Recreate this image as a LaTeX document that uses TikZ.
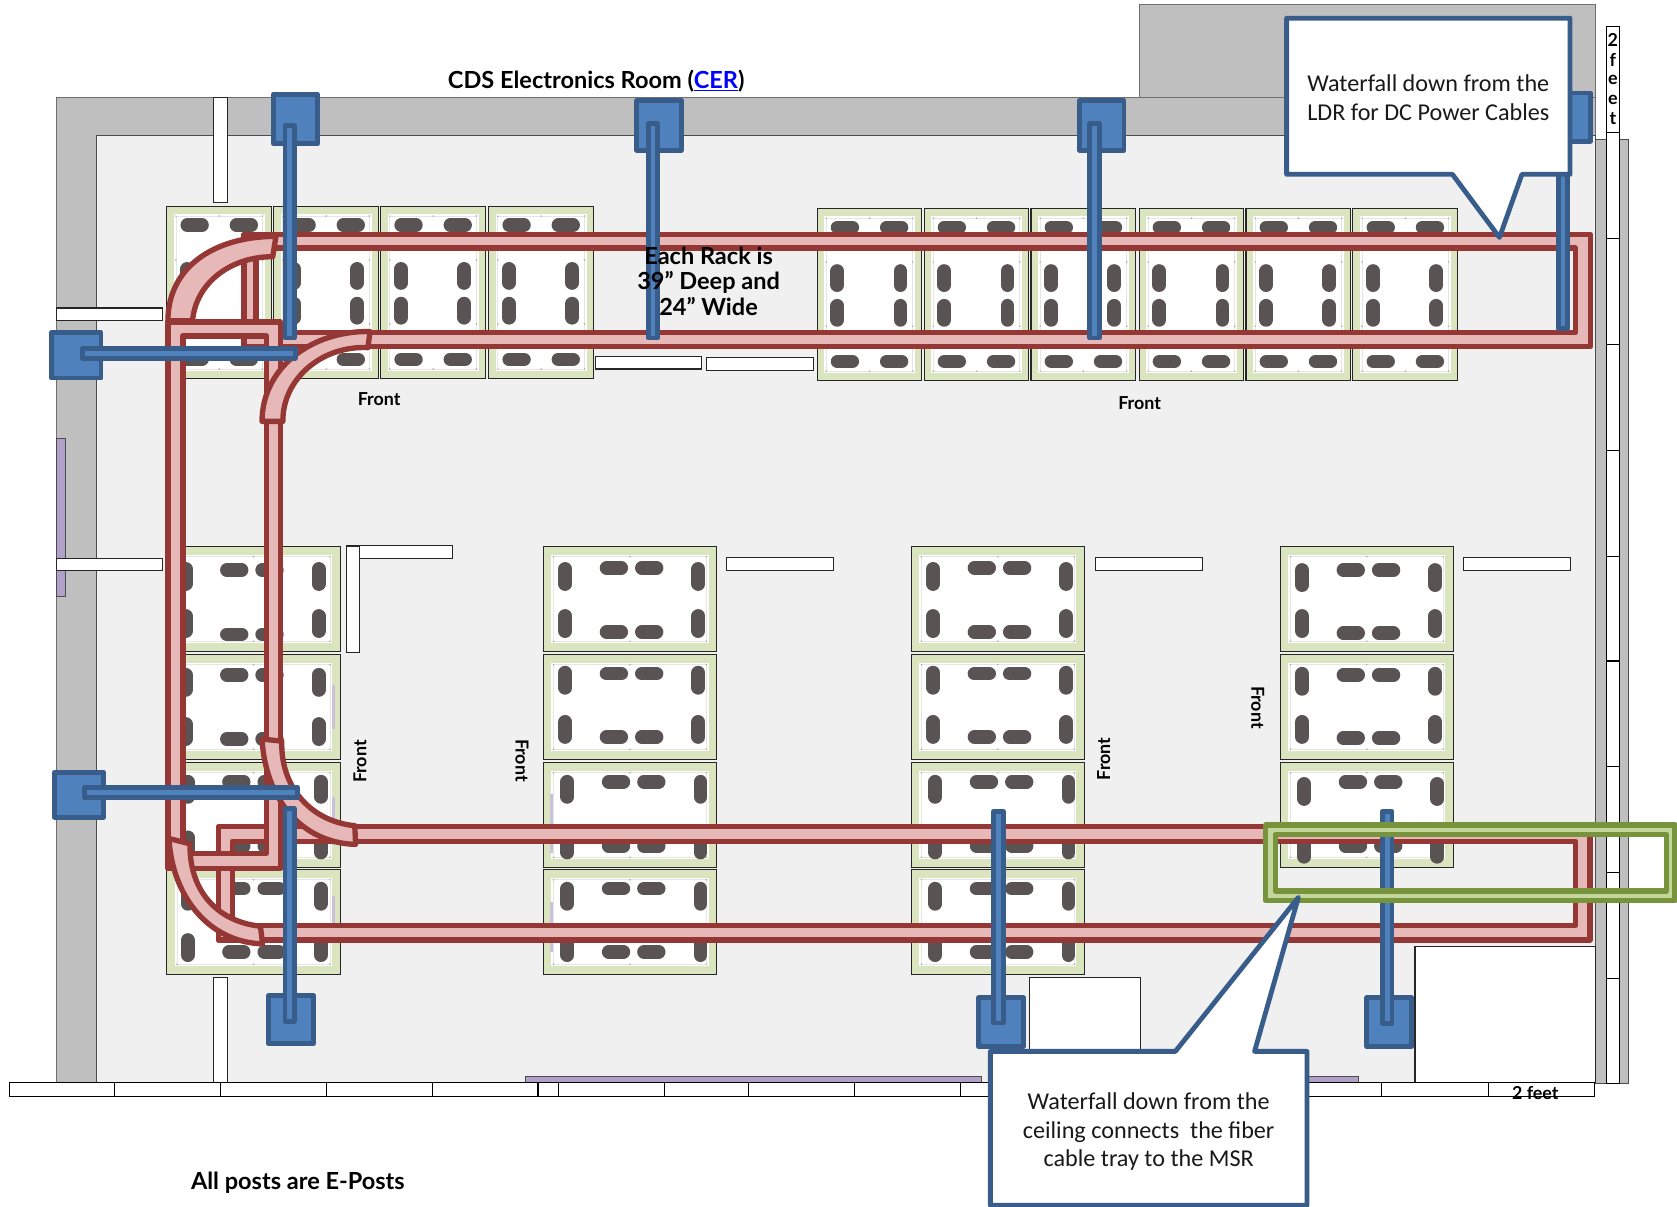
\documentclass[tikz,border=0pt]{standalone}
\usepackage{fontspec}
\setmainfont{Carlito}
\newfontfamily\comic{Lato}
\definecolor{wallgrey}{HTML}{BFBFBF}
\definecolor{wallline}{HTML}{6E6E6E}
\definecolor{floorgrey}{HTML}{F0F0F0}
\definecolor{rackgreen}{HTML}{DAE5BF}
\definecolor{pilldark}{HTML}{595354}
\definecolor{purpleband}{HTML}{B1A0C7}
\definecolor{purplelight}{HTML}{CCC1DA}
\definecolor{traypink}{HTML}{E6B9B8}
\definecolor{trayred}{HTML}{953735}
\definecolor{postblue}{HTML}{4F81BD}
\definecolor{postline}{HTML}{385D8A}
\definecolor{zonegreen}{HTML}{C3D69B}
\definecolor{zoneline}{HTML}{77933C}
\definecolor{linkblue}{HTML}{0000FF}
\tikzset{
  wallbox/.style={fill=wallgrey,draw=wallline,line width=1pt},
  whitebox/.style={fill=white,draw=black!85,line width=1pt},
  rulecell/.style={fill=white,draw=black,line width=1pt},
  band/.style={fill=purpleband,draw=black!70,line width=.7pt},
  rackbox/.style={fill=rackgreen,draw=black!85,line width=1pt},
  rackin/.style={fill=white,draw=none},
  racktrim/.style={draw=black!10,line width=.8pt},
  rackdot/.style={fill=black!35,draw=none},
  pillh/.style={draw=pilldark,line width=12.5pt,line cap=round},
  pillv/.style={draw=pilldark,line width=13pt,line cap=round},
  tray/.style={fill=traypink,draw=trayred,line width=5pt,line join=round},
  post/.style={fill=postblue,draw=postline,line width=4.5pt,line join=round},
  zone/.style={fill=zonegreen,draw=zoneline,line width=5pt,line join=round,even odd rule},
  callout/.style={fill=white,draw=postline,line width=4.5pt,line join=round},
  ctext/.style={align=center,font=\fontsize{22.6}{26.8}\selectfont,text=black!90,inner sep=0pt},
  ftext/.style={font=\comic\bfseries\fontsize{16.7}{20}\selectfont,inner sep=0pt},
  mtext/.style={align=center,font=\comic\bfseries\fontsize{22}{23.5}\selectfont,inner sep=0pt}
}
\newcommand\toprack[2]{\begin{scope}[shift={(#1,#2)}]
  \draw[rackbox] (0,0) rectangle (98,161);
  \fill[rackin] (6.5,7) rectangle (91.5,154);
  \draw[racktrim] (8.5,9) rectangle (89.5,152);
  \foreach \dx/\dy in {8.5/9,49/9,89.5/9,8.5/152,49/152,89.5/152,8.5/50,89.5/50,8.5/110,89.5/110}{\fill[rackdot] (\dx,\dy) circle (.8);}
  \foreach \px in {26,72}{\draw[pillh] (\px-7,17.5)--(\px+7,17.5);\draw[pillh] (\px-7,143)--(\px+7,143);}
  \foreach \px in {19,78}{\draw[pillv] (\px,58.5)--(\px,71.5);\draw[pillv] (\px,91)--(\px,104);}
\end{scope}}
\newcommand\lowrack[7]{\begin{scope}[shift={(#1,#2)}]
  \draw[rackbox] (0,0) rectangle (162,98);
  \fill[rackin] (7.5,7.5) rectangle (154.5,90.5);
  \draw[racktrim] (9.5,9.5) rectangle (152.5,88.5);
  \foreach \dx/\dy in {9.5/9.5,81/9.5,152.5/9.5,9.5/88.5,81/88.5,152.5/88.5}{\fill[rackdot] (\dx,\dy) circle (.8);}
  \foreach \px in {66,99}{\draw[pillh] (#3+\px-7,#4)--(#3+\px+7,#4);\draw[pillh] (#3+\px-7,#5)--(#3+\px+7,#5);}
  \foreach \px in {20.5,145}{\draw[pillv] (#3+\px,#6-7)--(#3+\px,#6+7);\draw[pillv] (#3+\px,#7-7)--(#3+\px,#7+7);}
\end{scope}}
\begin{document}
\begin{tikzpicture}[x=1pt,y=-1pt]
\useasboundingbox (0,0) rectangle (1568,1128);
\fill[white] (0,0) rectangle (1568,1128);
% building
\draw[wallbox] (1065,4) rectangle (1492,91);
\draw[wallbox] (53,91) rectangle (1492,1012);
\draw[fill=floorgrey,draw=black!70,line width=1pt] (90,127) rectangle (1492,1012);
\foreach \wx/\wr in {1492/1502,1514/1523}{
  \shade[top color=wallgrey,middle color=black!50,bottom color=wallgrey] (\wx,130) rectangle (\wr,1013);
  \draw[draw=black!70,line width=.8pt] (\wx,130) rectangle (\wr,1013);}
% ruler cells on the right
\draw[rulecell] (1502,25) rectangle (1514,124);
\foreach \ry/\rn in {124/223,223/322,322/421,421/520,520/618,618/717,717/816,816/915,915/1013}{\draw[rulecell] (1502,\ry) rectangle (1514,\rn);}
% bands
\draw[band] (53,410) rectangle (61,558);
\draw[band] (491,1006) rectangle (918,1012);
\draw[band] (1200,1006) rectangle (1270,1012);
% racks
\foreach \rx in {156,256,356,457}{\toprack{\rx}{193}}
\foreach \rx in {764,864,964,1065,1165,1265}{\toprack{\rx}{195}}
\lowrack{156}{511}{-3}{22}{82}{28}{72}
\lowrack{156}{612}{-3}{19}{79}{26}{72}
\lowrack{156}{713}{-1}{18}{78}{25}{77}
\lowrack{156}{813}{-1}{18}{77}{25}{73}
\lowrack{508}{511}{0}{20}{80}{28}{72}
\lowrack{508}{612}{0}{18}{77}{24}{70}
\lowrack{508}{713}{2}{18}{78}{25}{77}
\lowrack{508}{813}{2}{18}{77}{25}{73}
\lowrack{852}{511}{0}{20}{80}{28}{72}
\lowrack{852}{612}{0}{18}{77}{24}{70}
\lowrack{852}{713}{2}{18}{78}{25}{77}
\lowrack{852}{813}{2}{18}{77}{25}{73}
\lowrack{1197}{511}{0}{22}{81}{29}{72}
\lowrack{1197}{612}{0}{19}{78}{25}{70}
\lowrack{1197}{713}{2}{18}{78}{27}{81}
\foreach \sx/\sa/\sb in {310/640/682,310/745/790,310/838/880,514/742/798,514/843/890}{\fill[purplelight] (\sx,\sa) rectangle (\sx+3,\sb);}
% white bars and boxes
\draw[whitebox] (200,91) rectangle (213,189);
\draw[whitebox] (200,914) rectangle (213,1013);
\draw[whitebox] (53,288) rectangle (152,300);
\draw[whitebox] (53,522) rectangle (152,533);
\draw[whitebox] (557,333) rectangle (656,345);
\draw[whitebox] (661,334) rectangle (761,346);
\draw[whitebox] (324,510) rectangle (423,522);
\draw[whitebox] (324,511) rectangle (336,610);
\draw[whitebox] (679,521) rectangle (779,533);
\draw[whitebox] (1024,521) rectangle (1124,533);
\draw[whitebox] (1368,521) rectangle (1468,533);
\draw[whitebox] (963,914) rectangle (1066,1012);
\draw[whitebox] (1323,885) rectangle (1492,1012);
% bottom ruler
\foreach \ca/\cb in {9/107,107/206,206/305,305/404,404/503,503/522,522/621,621/700,700/799,799/898,898/1193,1193/1292,1292/1392,1392/1491}{\draw[rulecell] (\ca,1012) rectangle (\cb,1025);}
% trays
\draw[tray,even odd rule] (228,219) rectangle (1487,324) (239.5,232) rectangle (1473,311);
\draw[tray] (157,300) .. controls (157,250) and (200,221) .. (258,221) -- (255,240) .. controls (215,240) and (183,265) .. (180,300) -- cycle;
\draw[tray,even odd rule] (204,773) rectangle (1486.5,879) (217.5,786.5) rectangle (1473,865.5);
\draw[tray,even odd rule] (157,301) rectangle (262,812) (171,314) rectangle (249,798);
\draw[tray] (245,394) .. controls (245,345) and (290,309) .. (346,310) -- (344,325) .. controls (300,323) and (264,355) .. (264.5,394) -- cycle;
\draw[tray] (245,691) .. controls (248,745) and (280,788) .. (332.5,789.5) -- (331.7,772) .. controls (290,768) and (262,735) .. (263.5,693) -- cycle;
\draw[tray] (158,784) .. controls (161,838) and (195,881) .. (245.5,882.5) -- (243.5,866) .. controls (205,862) and (177,835) .. (177.6,789) -- cycle;
% waterfall posts
\foreach \qa/\qb/\qc/\qd in {255.5/88/297/134.5,595.5/94/637/140.5,1009.5/94/1051/140.5,1440/87/1487/132,48/311/94.5/353.5,51/722/97/764,251/931/293/976,915/933/957/978.5,1278/933/1320/978.5}{\draw[post] (\qa,\qb) rectangle (\qc,\qd);}
\foreach \qa/\qb/\qc/\qd in {266.5/117.5/275/316,606/115.5/615/316,1019/115.5/1028/316,1457/100/1465.5/307,266.5/756/275/955,929/759/938.5/956.5,1292.5/759/1301.5/957}{\draw[post] (\qa,\qb) rectangle (\qc,\qd);}
\foreach \qa/\qb/\qc/\qd in {77/326/276/335,79/736.5/278/745.5}{\draw[post] (\qa,\qb) rectangle (\qc,\qd);}
% green zone
\draw[zone] (1183.5,771.5) rectangle (1566,842) (1192.5,780.3) rectangle (1558.4,833);
% callouts
\draw[callout] (1203,17) -- (1468,17) -- (1468,163) -- (1423,163) -- (1402,222) -- (1358,163) -- (1203,163) -- cycle;
\draw[callout] (926,983) -- (1099,983) -- (1214,839) -- (1173,983) -- (1222,983) -- (1222,1127) -- (926,1127) -- cycle;
% texts
\node[ctext] (ldr) at (1335.5,91.5) {Waterfall down from the\\LDR for DC Power Cables};
\node[ctext] (msr) at (1074,1058) {Waterfall down from the\\ceiling connects\ \ the fiber\\cable tray to the MSR};
\node[mtext] (title) at (557.5,76) {CDS Electronics Room (\textcolor{linkblue}{\underline{CER}})};
\node[mtext] (rackinfo) at (662.5,263) {Each Rack is\\39” Deep and\\24” Wide};
\node[mtext] (posts) at (278.5,1105.5) {All posts are E-Posts};
\node[ftext] (front1) at (354.5,373.5) {Front};
\node[ftext] (front2) at (1065.5,376.5) {Front};
\node[ftext,rotate=90] (front3) at (336.5,712) {Front};
\node[ftext,rotate=-90] (front4) at (488,711) {Front};
\node[ftext,rotate=90] (front5) at (1032,709.5) {Front};
\node[ftext,rotate=-90] (front6) at (1176,661.5) {Front};
\node[ftext] (twofeet) at (1435.5,1022) {2 feet};
\foreach \lt/\ly in {2/37,f/56,e/75,e/93,t/111}{\node[ftext] at (1508,\ly) {\lt};}
\end{tikzpicture}
\end{document}
